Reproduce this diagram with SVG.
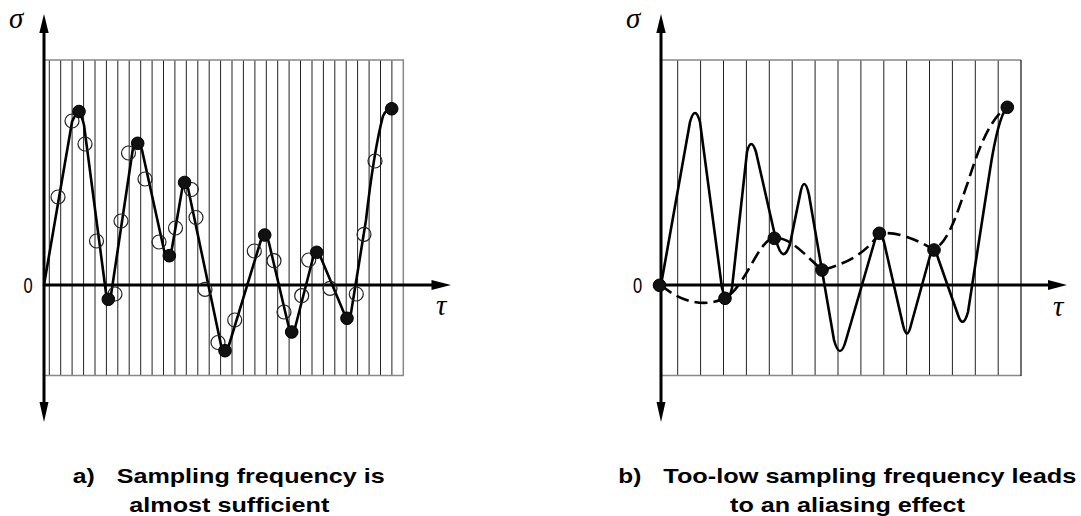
<svg xmlns="http://www.w3.org/2000/svg" width="1081" height="516" viewBox="0 0 1081 516">
<style>
.grid line{stroke:#222;stroke-width:1}
.border{stroke:#888;stroke-width:1.5;fill:none}
.axis{stroke:#000;stroke-width:3;fill:none}
.head{fill:#000}
.curve{stroke:#000;stroke-width:2.6;fill:none;stroke-linejoin:round;stroke-linecap:round}
.dash{stroke:#000;stroke-width:2.6;fill:none;stroke-dasharray:13 6}
.dot{fill:#111;stroke:#000;stroke-width:1}
.open{fill:none;stroke:#222;stroke-width:1.2}
.sym{font-family:"Liberation Serif",serif;font-style:italic;font-size:29px;fill:#000}
.zero{font-family:"Liberation Sans",sans-serif;font-size:22px;fill:#000}
.cap{font-family:"Liberation Sans",Arial,sans-serif;font-weight:bold;font-size:21px;fill:#000}
</style>
<rect width="1081" height="516" fill="#fff"/>

<g id="panel-a">
  <g class="grid">
    <line x1="49.3" y1="60" x2="49.3" y2="375"/><line x1="60.7" y1="60" x2="60.7" y2="375"/><line x1="72.1" y1="60" x2="72.1" y2="375"/><line x1="83.6" y1="60" x2="83.6" y2="375"/>
    <line x1="95" y1="60" x2="95" y2="375"/><line x1="106.4" y1="60" x2="106.4" y2="375"/><line x1="117.8" y1="60" x2="117.8" y2="375"/><line x1="129.2" y1="60" x2="129.2" y2="375"/>
    <line x1="140.7" y1="60" x2="140.7" y2="375"/><line x1="152.1" y1="60" x2="152.1" y2="375"/><line x1="163.5" y1="60" x2="163.5" y2="375"/><line x1="174.9" y1="60" x2="174.9" y2="375"/>
    <line x1="186.3" y1="60" x2="186.3" y2="375"/><line x1="197.8" y1="60" x2="197.8" y2="375"/><line x1="209.2" y1="60" x2="209.2" y2="375"/><line x1="220.6" y1="60" x2="220.6" y2="375"/>
    <line x1="232" y1="60" x2="232" y2="375"/><line x1="243.4" y1="60" x2="243.4" y2="375"/><line x1="254.9" y1="60" x2="254.9" y2="375"/><line x1="266.3" y1="60" x2="266.3" y2="375"/>
    <line x1="277.7" y1="60" x2="277.7" y2="375"/><line x1="289.1" y1="60" x2="289.1" y2="375"/><line x1="300.5" y1="60" x2="300.5" y2="375"/><line x1="312" y1="60" x2="312" y2="375"/>
    <line x1="323.4" y1="60" x2="323.4" y2="375"/><line x1="334.8" y1="60" x2="334.8" y2="375"/><line x1="346.2" y1="60" x2="346.2" y2="375"/><line x1="357.6" y1="60" x2="357.6" y2="375"/>
    <line x1="369.1" y1="60" x2="369.1" y2="375"/><line x1="380.5" y1="60" x2="380.5" y2="375"/><line x1="391.9" y1="60" x2="391.9" y2="375"/>
  </g>
  <path class="border" d="M44,60 H403.3 V375.5 H44"/>
  <g id="axes-a">
    <line class="axis" x1="44" y1="32" x2="44" y2="404"/>
    <line class="axis" x1="44" y1="285" x2="433" y2="285"/>
    <polygon class="head" points="44,14 39.3,33 48.7,33"/>
    <polygon class="head" points="44,422 39.5,402 48.5,402"/>
    <polygon class="head" points="451,285 431.5,280 431.5,290"/>
  </g>
  <text class="sym" x="9" y="28">σ</text>
  <text class="sym" x="436" y="315">τ</text>
  <text class="zero" text-anchor="middle" transform="translate(28,293) scale(0.75,1)">0</text>
  <path class="curve" d="M44,285 L72,122 Q79,104 84,125 L106,293 Q108,304 111,295 L133,148 Q138,136 142,150 L164,250 Q169,262 172,248 L182,190 Q185,176 188,188 L221,345 Q225,358 229,345 L261,240 Q265,228 269,243 L289,328 Q292,339 295,328 L313,258 Q317,245 321,258 L344,313 Q347,324 351,313 L366,220 Q374,150 383,116 Q387,108 392,108"/>
  <g id="open-samples-a">
    <circle class="open" cx="58" cy="197" r="7"/><circle class="open" cx="72" cy="121" r="7"/><circle class="open" cx="85" cy="144" r="7"/>
    <circle class="open" cx="96.5" cy="241" r="7"/><circle class="open" cx="115" cy="294" r="7"/><circle class="open" cx="121" cy="221" r="7"/>
    <circle class="open" cx="128.5" cy="153" r="7"/><circle class="open" cx="145" cy="179" r="7"/><circle class="open" cx="159" cy="242" r="7"/>
    <circle class="open" cx="175.5" cy="228" r="7"/><circle class="open" cx="191.3" cy="189.5" r="7"/><circle class="open" cx="196" cy="217.5" r="7"/>
    <circle class="open" cx="205" cy="289.3" r="7"/><circle class="open" cx="218" cy="342.5" r="7"/><circle class="open" cx="234.7" cy="320" r="7"/>
    <circle class="open" cx="254.3" cy="251" r="7"/><circle class="open" cx="274" cy="260.7" r="7"/><circle class="open" cx="284" cy="312" r="7"/>
    <circle class="open" cx="301.7" cy="295.7" r="7"/><circle class="open" cx="308.7" cy="260" r="7"/><circle class="open" cx="330" cy="288.3" r="7"/>
    <circle class="open" cx="356.3" cy="294" r="7"/><circle class="open" cx="364" cy="234.3" r="7"/><circle class="open" cx="375" cy="161" r="7"/>
  </g>
  <g id="filled-samples-a">
    <circle class="dot" cx="79" cy="111.5" r="6.3"/><circle class="dot" cx="108.3" cy="299.3" r="6.3"/><circle class="dot" cx="137.7" cy="143.3" r="6.3"/>
    <circle class="dot" cx="169.3" cy="255.7" r="6.3"/><circle class="dot" cx="184.6" cy="182.5" r="6.3"/><circle class="dot" cx="225" cy="350.7" r="6.3"/>
    <circle class="dot" cx="264.7" cy="235" r="6.3"/><circle class="dot" cx="291.7" cy="332" r="6.3"/><circle class="dot" cx="316.7" cy="252.3" r="6.3"/>
    <circle class="dot" cx="347" cy="318.3" r="6.3"/><circle class="dot" cx="391.7" cy="108.8" r="6.3"/>
  </g>
  <text class="cap" x="72.7" y="483" textLength="22" lengthAdjust="spacingAndGlyphs">a)</text>
  <text class="cap" x="116.7" y="483" textLength="268" lengthAdjust="spacingAndGlyphs">Sampling frequency is</text>
  <text class="cap" x="129.3" y="511.5" textLength="200" lengthAdjust="spacingAndGlyphs">almost sufficient</text>
</g>

<g id="panel-b">
  <g class="grid">
    <line x1="677.7" y1="60" x2="677.7" y2="375"/><line x1="700.6" y1="60" x2="700.6" y2="375"/><line x1="723.5" y1="60" x2="723.5" y2="375"/><line x1="746.4" y1="60" x2="746.4" y2="375"/>
    <line x1="769.3" y1="60" x2="769.3" y2="375"/><line x1="792.2" y1="60" x2="792.2" y2="375"/><line x1="815.1" y1="60" x2="815.1" y2="375"/><line x1="838" y1="60" x2="838" y2="375"/>
    <line x1="860.9" y1="60" x2="860.9" y2="375"/><line x1="883.8" y1="60" x2="883.8" y2="375"/><line x1="906.6" y1="60" x2="906.6" y2="375"/><line x1="929.5" y1="60" x2="929.5" y2="375"/>
    <line x1="952.4" y1="60" x2="952.4" y2="375"/><line x1="975.3" y1="60" x2="975.3" y2="375"/><line x1="998.2" y1="60" x2="998.2" y2="375"/>
  </g>
  <path class="border" d="M661,60 H1021 M1021,375.5 H661"/>
  <line x1="1021" y1="60" x2="1021" y2="376" stroke="#222" stroke-width="1.3"/>
  <g id="axes-b">
    <line class="axis" x1="661" y1="32" x2="661" y2="404"/>
    <line class="axis" x1="661" y1="285" x2="1049" y2="285"/>
    <polygon class="head" points="661,14 656.3,33 665.7,33"/>
    <polygon class="head" points="661,422 656.5,402 665.5,402"/>
    <polygon class="head" points="1067,285 1048,280 1048,290"/>
  </g>
  <text class="sym" x="626" y="28">σ</text>
  <text class="sym" x="1053" y="316">τ</text>
  <text class="zero" text-anchor="middle" transform="translate(637.5,293) scale(0.75,1)">0</text>
  <path class="curve" d="M661,285 L690,122 Q695,104 700,122 L722,288 Q727,308 732,288 L747,152 Q751,136 756,152 L776,240 Q783,266 790,244 L800,195 Q804,173 809,195 L834,340 Q840,362 846,340 L875,240 Q879,226 884,242 L903,325 Q907,342 911,325 L930,256 Q934,244 938,258 L958,315 Q963,330 968,312 L990,170 Q998,118 1007,107"/>
  <path class="dash" d="M661,285 C680,302 705,308 725,298 C745,288 758,240 774,238 C790,236 808,258 822,270 C840,265 862,258 879,234 C895,230 918,240 934,250 C950,240 958,210 968,182 C978,150 990,118 1007,107"/>
  <g id="filled-samples-b">
    <circle class="dot" cx="659.5" cy="285.3" r="6.3"/><circle class="dot" cx="725" cy="298.3" r="6.3"/><circle class="dot" cx="774.3" cy="238.3" r="6.3"/>
    <circle class="dot" cx="822" cy="270" r="6.3"/><circle class="dot" cx="879.3" cy="233.3" r="6.3"/><circle class="dot" cx="934" cy="250" r="6.3"/>
    <circle class="dot" cx="1007.3" cy="107.3" r="6.3"/>
  </g>
  <text class="cap" x="618.3" y="483" textLength="23" lengthAdjust="spacingAndGlyphs">b)</text>
  <text class="cap" x="663.3" y="483" textLength="413" lengthAdjust="spacingAndGlyphs">Too-low sampling frequency leads</text>
  <text class="cap" x="730" y="511.5" textLength="235" lengthAdjust="spacingAndGlyphs">to an aliasing effect</text>
</g>
</svg>
